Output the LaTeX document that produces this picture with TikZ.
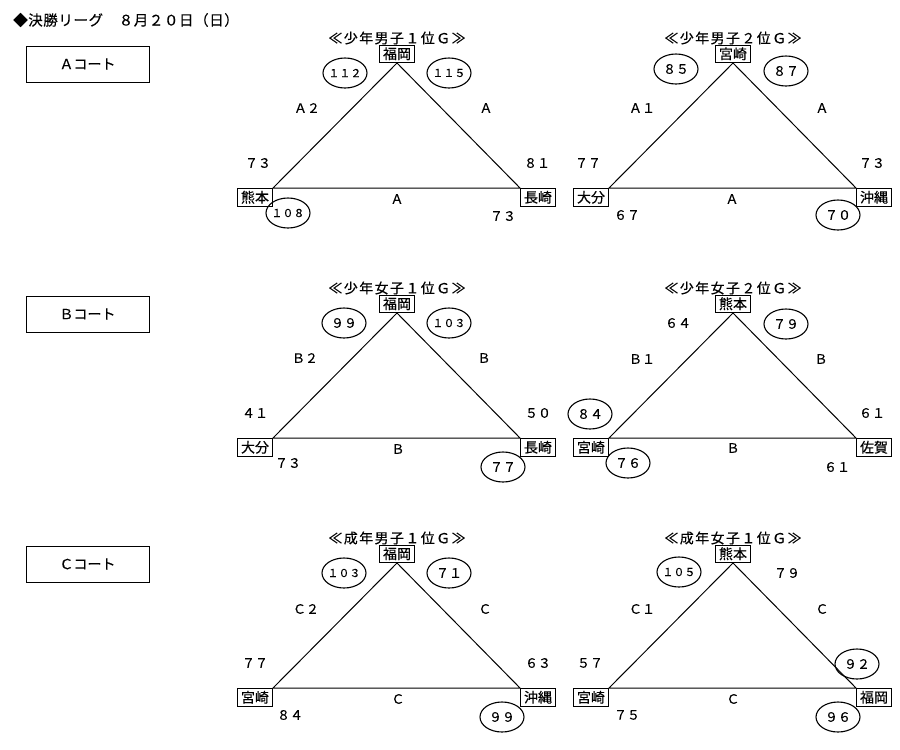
\documentclass[tikz,border=0pt]{standalone}
\usepackage{fontspec}
\setmainfont{Noto Sans CJK JP}[FakeBold=0.35]
\usetikzlibrary{shapes.geometric}
\newcommand\fixw[1]{\makebox[0pt]{#1}}
\tikzset{
  lbl/.style={inner sep=0pt, font=\fontsize{13}{15}\selectfont},
  ttl/.style={inner sep=0pt, font=\fontsize{14}{16}\selectfont\addfontfeature{LetterSpace=10}},
  vbox/.style={draw, line width=1pt, inner sep=0pt, minimum width=35pt, minimum height=17.5pt, font=\fontsize{14}{16}\selectfont},
  circ/.style={draw, ellipse, line width=1.1pt, inner sep=0pt, minimum width=44pt, minimum height=30pt, font=\fontsize{13}{15}\selectfont},
  circs/.style={circ, font=\fontsize{11}{13}\selectfont},
  court/.style={draw, line width=1pt, minimum width=123pt, minimum height=36pt, inner sep=0pt, font=\fontsize{14}{16}\selectfont},
  edge/.style={line width=1pt}
}
\begin{document}
\begin{tikzpicture}[x=1pt,y=-1pt]
\useasboundingbox (0,0) rectangle (900,750);
\node[inner sep=0pt, anchor=west, font=\fontsize{14.5}{16}\selectfont\addfontfeature{LetterSpace=4}] (head) at (13,20) {◆決勝リーグ　８月２０日（日）};
\node[court] (ca) at (87.5,64) {Ａコート};
\node[court] (cb) at (87.5,314) {Ｂコート};
\node[court] (cc) at (87.5,564) {Ｃコート};

% ---------- T1 ----------
\node[ttl] (g1) at (397,38) {≪少年男子１位Ｇ≫};
\node[vbox, anchor=south] (t1) at (397,63) {福岡};
\node[vbox, anchor=north east] (l1) at (273,188) {熊本};
\node[vbox, anchor=north west] (r1) at (520,188) {長崎};
\draw[edge] (t1.south) -- (l1.north east) -- (r1.north west) -- (t1.south);
\node[circs] (c1a) at (345,73) {\fixw{１１２}};
\node[circs] (c1b) at (449,73) {\fixw{１１５}};
\node[circs] (c1c) at (288,213) {\fixw{１０８}};
\node[lbl] (e1a) at (307,108) {Ａ２};
\node[lbl] (e1b) at (486,108) {Ａ};
\node[lbl] (s1a) at (258,163) {７３};
\node[lbl] (s1b) at (537,163) {８１};
\node[lbl] (e1c) at (397,199) {Ａ};
\node[lbl] (s1c) at (503,216) {７３};

% ---------- T2 ----------
\node[ttl] (g2) at (733,38) {≪少年男子２位Ｇ≫};
\node[vbox, anchor=south] (t2) at (733,63) {宮崎};
\node[vbox, anchor=north east] (l2) at (609,188) {大分};
\node[vbox, anchor=north west] (r2) at (856,188) {沖縄};
\draw[edge] (t2.south) -- (l2.north east) -- (r2.north west) -- (t2.south);
\node[circ] (c2a) at (676,69) {\fixw{８５}};
\node[circ] (c2b) at (786,71) {\fixw{８７}};
\node[circ] (c2c) at (838,215) {\fixw{７０}};
\node[lbl] (e2a) at (642,108) {Ａ１};
\node[lbl] (e2b) at (822,108) {Ａ};
\node[lbl] (s2a) at (588,163) {７７};
\node[lbl] (s2b) at (872,163) {７３};
\node[lbl] (e2c) at (732,199) {Ａ};
\node[lbl] (s2c) at (627,215) {６７};

% ---------- T3 ----------
\node[ttl] (g3) at (397,288) {≪少年女子１位Ｇ≫};
\node[vbox, anchor=south] (t3) at (397,313) {福岡};
\node[vbox, anchor=north east] (l3) at (273,438) {大分};
\node[vbox, anchor=north west] (r3) at (520,438) {長崎};
\draw[edge] (t3.south) -- (l3.north east) -- (r3.north west) -- (t3.south);
\node[circ] (c3a) at (344,323) {\fixw{９９}};
\node[circs] (c3b) at (449,323) {\fixw{１０３}};
\node[circ] (c3c) at (503,467) {\fixw{７７}};
\node[lbl] (e3a) at (305,358) {Ｂ２};
\node[lbl] (e3b) at (484,358) {Ｂ};
\node[lbl] (s3a) at (255,413) {４１};
\node[lbl] (s3b) at (538,413) {５０};
\node[lbl] (e3c) at (398,449) {Ｂ};
\node[lbl] (s3c) at (288,463) {７３};

% ---------- T4 ----------
\node[ttl] (g4) at (733,288) {≪少年女子２位Ｇ≫};
\node[vbox, anchor=south] (t4) at (733,313) {熊本};
\node[vbox, anchor=north east] (l4) at (609,438) {宮崎};
\node[vbox, anchor=north west] (r4) at (856,438) {佐賀};
\draw[edge] (t4.south) -- (l4.north east) -- (r4.north west) -- (t4.south);
\node[circ] (c4a) at (786,324) {\fixw{７９}};
\node[circ] (c4b) at (590,414) {\fixw{８４}};
\node[circ] (c4c) at (628,463) {\fixw{７６}};
\node[lbl] (s4d) at (678,323) {６４};
\node[lbl] (e4a) at (642,359) {Ｂ１};
\node[lbl] (e4b) at (821,359) {Ｂ};
\node[lbl] (s4b) at (872,413) {６１};
\node[lbl] (e4c) at (733,448) {Ｂ};
\node[lbl] (s4c) at (837,467) {６１};

% ---------- T5 ----------
\node[ttl] (g5) at (397,538) {≪成年男子１位Ｇ≫};
\node[vbox, anchor=south] (t5) at (397,563) {福岡};
\node[vbox, anchor=north east] (l5) at (273,688) {宮崎};
\node[vbox, anchor=north west] (r5) at (520,688) {沖縄};
\draw[edge] (t5.south) -- (l5.north east) -- (r5.north west) -- (t5.south);
\node[circs] (c5a) at (344,573) {\fixw{１０３}};
\node[circ] (c5b) at (449,573) {\fixw{７１}};
\node[circ] (c5c) at (502,717) {\fixw{９９}};
\node[lbl] (e5a) at (306,609) {Ｃ２};
\node[lbl] (e5b) at (485,609) {Ｃ};
\node[lbl] (s5a) at (255,663) {７７};
\node[lbl] (s5b) at (538,663) {６３};
\node[lbl] (e5c) at (398,699) {Ｃ};
\node[lbl] (s5c) at (290,715) {８４};

% ---------- T6 ----------
\node[ttl] (g6) at (733,538) {≪成年女子１位Ｇ≫};
\node[vbox, anchor=south] (t6) at (733,563) {熊本};
\node[vbox, anchor=north east] (l6) at (609,688) {宮崎};
\node[vbox, anchor=north west] (r6) at (856,688) {福岡};
\draw[edge] (t6.south) -- (l6.north east) -- (r6.north west) -- (t6.south);
\node[circs] (c6a) at (679,572) {\fixw{１０５}};
\node[circ] (c6b) at (857,664) {\fixw{９２}};
\node[circ] (c6c) at (838,717) {\fixw{９６}};
\node[lbl] (s6d) at (787,573) {７９};
\node[lbl] (e6a) at (642,609) {Ｃ１};
\node[lbl] (e6b) at (822,609) {Ｃ};
\node[lbl] (s6a) at (590,663) {５７};
\node[lbl] (e6c) at (733,699) {Ｃ};
\node[lbl] (s6c) at (627,715) {７５};
\end{tikzpicture}
\end{document}
